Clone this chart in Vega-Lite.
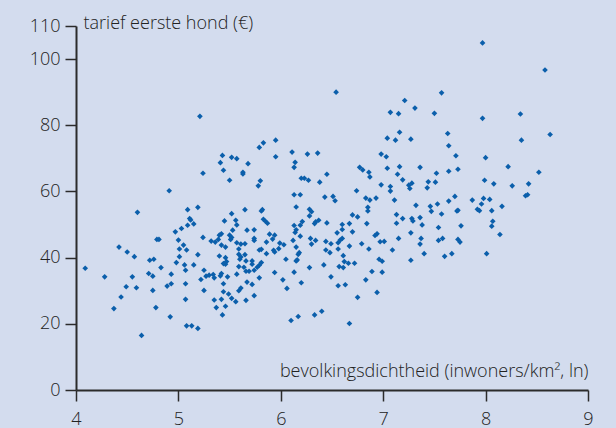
{
  "$schema": "https://vega.github.io/schema/vega-lite/v6.json",
  "autosize": {"type": "none"},
  "padding": {"left": 76, "top": 26, "right": 28, "bottom": 38},
  "width": 512,
  "height": 364,
  "background": "#d3dcee",
  "config": {
    "view": {"stroke": null},
    "font": "Open Sans",
    "axis": {
      "labelFont": "Open Sans",
      "titleFont": "Open Sans",
      "labelFontSize": 18,
      "titleFontSize": 18,
      "labelFontWeight": 300,
      "titleFontWeight": 300,
      "labelColor": "#222222",
      "titleColor": "#222222",
      "domainColor": "#2b2b2b",
      "domainWidth": 2,
      "tickColor": "#2b2b2b",
      "tickWidth": 1.5,
      "tickSize": 11,
      "grid": false
    }
  },
  "data": {
    "values": [
      {"dichtheid": 7.97, "tarief": 104.9}, {"dichtheid": 8.58, "tarief": 96.7}, {"dichtheid": 7.57, "tarief": 89.8},
      {"dichtheid": 7.50, "tarief": 83.6}, {"dichtheid": 7.97, "tarief": 82.1}, {"dichtheid": 8.34, "tarief": 83.4},
      {"dichtheid": 7.63, "tarief": 77.5}, {"dichtheid": 8.35, "tarief": 75.5}, {"dichtheid": 8.63, "tarief": 77.2},
      {"dichtheid": 7.64, "tarief": 73.8}, {"dichtheid": 7.71, "tarief": 70.8}, {"dichtheid": 8.00, "tarief": 70.2},
      {"dichtheid": 8.22, "tarief": 67.5}, {"dichtheid": 8.52, "tarief": 65.8}, {"dichtheid": 7.36, "tarief": 67.3},
      {"dichtheid": 7.52, "tarief": 65.5}, {"dichtheid": 7.64, "tarief": 66.1}, {"dichtheid": 7.73, "tarief": 66.7},
      {"dichtheid": 7.44, "tarief": 62.9}, {"dichtheid": 7.51, "tarief": 62.8}, {"dichtheid": 7.43, "tarief": 61.1},
      {"dichtheid": 7.99, "tarief": 63.4}, {"dichtheid": 8.08, "tarief": 62.3}, {"dichtheid": 8.26, "tarief": 61.7},
      {"dichtheid": 8.42, "tarief": 62.3}, {"dichtheid": 8.39, "tarief": 58.7}, {"dichtheid": 8.41, "tarief": 59.0},
      {"dichtheid": 7.70, "tarief": 58.5}, {"dichtheid": 7.64, "tarief": 57.1}, {"dichtheid": 7.53, "tarief": 56.2},
      {"dichtheid": 7.46, "tarief": 55.5}, {"dichtheid": 7.47, "tarief": 54.0}, {"dichtheid": 7.57, "tarief": 53.2},
      {"dichtheid": 7.36, "tarief": 52.1}, {"dichtheid": 7.87, "tarief": 57.4}, {"dichtheid": 7.98, "tarief": 57.9},
      {"dichtheid": 8.04, "tarief": 57.6}, {"dichtheid": 7.96, "tarief": 56.2}, {"dichtheid": 8.16, "tarief": 55.5},
      {"dichtheid": 7.92, "tarief": 54.6}, {"dichtheid": 7.94, "tarief": 54.2}, {"dichtheid": 7.72, "tarief": 54.1},
      {"dichtheid": 7.73, "tarief": 54.3}, {"dichtheid": 8.06, "tarief": 54.2}, {"dichtheid": 8.07, "tarief": 51.0},
      {"dichtheid": 8.06, "tarief": 49.5}, {"dichtheid": 7.76, "tarief": 49.6}, {"dichtheid": 7.54, "tarief": 49.1},
      {"dichtheid": 7.38, "tarief": 49.9}, {"dichtheid": 8.14, "tarief": 47.0}, {"dichtheid": 7.37, "tarief": 45.8},
      {"dichtheid": 7.36, "tarief": 44.1}, {"dichtheid": 7.54, "tarief": 45.2}, {"dichtheid": 7.58, "tarief": 45.8},
      {"dichtheid": 7.73, "tarief": 45.5}, {"dichtheid": 7.75, "tarief": 44.7}, {"dichtheid": 7.40, "tarief": 41.2},
      {"dichtheid": 7.60, "tarief": 40.4}, {"dichtheid": 7.67, "tarief": 41.2}, {"dichtheid": 8.01, "tarief": 41.2},
      {"dichtheid": 6.54, "tarief": 90.0}, {"dichtheid": 7.21, "tarief": 87.5}, {"dichtheid": 7.31, "tarief": 85.2},
      {"dichtheid": 7.07, "tarief": 83.9}, {"dichtheid": 7.15, "tarief": 83.5}, {"dichtheid": 7.16, "tarief": 77.9},
      {"dichtheid": 7.04, "tarief": 76.1}, {"dichtheid": 7.12, "tarief": 75.5}, {"dichtheid": 7.27, "tarief": 75.8},
      {"dichtheid": 5.79, "tarief": 73.3}, {"dichtheid": 5.83, "tarief": 74.7}, {"dichtheid": 5.95, "tarief": 75.5},
      {"dichtheid": 5.95, "tarief": 70.5}, {"dichtheid": 6.11, "tarief": 71.9}, {"dichtheid": 6.26, "tarief": 71.3},
      {"dichtheid": 6.36, "tarief": 71.6}, {"dichtheid": 6.14, "tarief": 68.8}, {"dichtheid": 6.13, "tarief": 67.3},
      {"dichtheid": 6.98, "tarief": 71.3}, {"dichtheid": 7.03, "tarief": 70.5}, {"dichtheid": 6.77, "tarief": 67.3},
      {"dichtheid": 6.80, "tarief": 66.5}, {"dichtheid": 6.86, "tarief": 65.8}, {"dichtheid": 6.87, "tarief": 64.4},
      {"dichtheid": 7.04, "tarief": 67.0}, {"dichtheid": 7.16, "tarief": 67.5}, {"dichtheid": 7.14, "tarief": 65.2},
      {"dichtheid": 7.19, "tarief": 63.5}, {"dichtheid": 7.28, "tarief": 62.5}, {"dichtheid": 7.25, "tarief": 61.9},
      {"dichtheid": 7.26, "tarief": 60.9}, {"dichtheid": 6.98, "tarief": 62.0}, {"dichtheid": 7.07, "tarief": 61.5},
      {"dichtheid": 7.07, "tarief": 60.1}, {"dichtheid": 6.74, "tarief": 60.2}, {"dichtheid": 5.80, "tarief": 63.2},
      {"dichtheid": 5.78, "tarief": 61.7}, {"dichtheid": 6.20, "tarief": 64.0}, {"dichtheid": 6.23, "tarief": 64.0},
      {"dichtheid": 6.27, "tarief": 63.4}, {"dichtheid": 6.38, "tarief": 62.8}, {"dichtheid": 6.45, "tarief": 65.2},
      {"dichtheid": 6.13, "tarief": 59.0}, {"dichtheid": 6.19, "tarief": 59.0}, {"dichtheid": 6.43, "tarief": 58.3},
      {"dichtheid": 6.51, "tarief": 58.5}, {"dichtheid": 6.53, "tarief": 57.2}, {"dichtheid": 6.83, "tarief": 58.0},
      {"dichtheid": 6.93, "tarief": 58.0}, {"dichtheid": 6.87, "tarief": 57.4}, {"dichtheid": 7.11, "tarief": 57.4},
      {"dichtheid": 6.85, "tarief": 55.2}, {"dichtheid": 6.85, "tarief": 54.1}, {"dichtheid": 7.32, "tarief": 55.8},
      {"dichtheid": 5.82, "tarief": 54.5}, {"dichtheid": 5.81, "tarief": 54.1}, {"dichtheid": 6.15, "tarief": 55.3},
      {"dichtheid": 6.28, "tarief": 54.6}, {"dichtheid": 6.30, "tarief": 53.9}, {"dichtheid": 6.28, "tarief": 52.6},
      {"dichtheid": 6.70, "tarief": 52.9}, {"dichtheid": 6.75, "tarief": 52.3}, {"dichtheid": 7.13, "tarief": 53.0},
      {"dichtheid": 7.19, "tarief": 51.8}, {"dichtheid": 7.28, "tarief": 51.8}, {"dichtheid": 7.29, "tarief": 51.1},
      {"dichtheid": 5.83, "tarief": 51.6}, {"dichtheid": 5.85, "tarief": 51.0}, {"dichtheid": 5.87, "tarief": 50.4},
      {"dichtheid": 6.21, "tarief": 50.9}, {"dichtheid": 6.19, "tarief": 49.8}, {"dichtheid": 6.13, "tarief": 49.7},
      {"dichtheid": 6.34, "tarief": 50.8}, {"dichtheid": 6.37, "tarief": 51.3}, {"dichtheid": 6.33, "tarief": 50.3},
      {"dichtheid": 6.45, "tarief": 50.5}, {"dichtheid": 6.60, "tarief": 50.0}, {"dichtheid": 6.60, "tarief": 48.5},
      {"dichtheid": 6.67, "tarief": 50.3}, {"dichtheid": 6.84, "tarief": 50.3}, {"dichtheid": 7.13, "tarief": 50.4},
      {"dichtheid": 5.74, "tarief": 48.4}, {"dichtheid": 6.14, "tarief": 47.6}, {"dichtheid": 6.15, "tarief": 48.4},
      {"dichtheid": 6.55, "tarief": 47.5}, {"dichtheid": 6.70, "tarief": 47.8}, {"dichtheid": 6.94, "tarief": 47.2},
      {"dichtheid": 6.92, "tarief": 46.7}, {"dichtheid": 7.27, "tarief": 47.5}, {"dichtheid": 5.89, "tarief": 47.1},
      {"dichtheid": 5.94, "tarief": 46.8}, {"dichtheid": 5.92, "tarief": 45.6}, {"dichtheid": 5.74, "tarief": 45.8},
      {"dichtheid": 5.74, "tarief": 45.2}, {"dichtheid": 6.19, "tarief": 46.5}, {"dichtheid": 6.29, "tarief": 45.8},
      {"dichtheid": 6.34, "tarief": 45.2}, {"dichtheid": 6.12, "tarief": 45.2}, {"dichtheid": 5.86, "tarief": 44.7},
      {"dichtheid": 5.99, "tarief": 44.4}, {"dichtheid": 6.03, "tarief": 43.9}, {"dichtheid": 6.30, "tarief": 44.1},
      {"dichtheid": 6.44, "tarief": 44.9}, {"dichtheid": 6.49, "tarief": 44.2}, {"dichtheid": 6.56, "tarief": 44.5},
      {"dichtheid": 6.58, "tarief": 45.3}, {"dichtheid": 6.60, "tarief": 45.8}, {"dichtheid": 7.15, "tarief": 45.8},
      {"dichtheid": 6.97, "tarief": 44.8}, {"dichtheid": 7.01, "tarief": 44.9}, {"dichtheid": 6.15, "tarief": 43.2},
      {"dichtheid": 6.67, "tarief": 43.5}, {"dichtheid": 6.79, "tarief": 44.2}, {"dichtheid": 5.79, "tarief": 42.3},
      {"dichtheid": 5.81, "tarief": 42.5}, {"dichtheid": 5.93, "tarief": 42.2}, {"dichtheid": 5.94, "tarief": 41.7},
      {"dichtheid": 5.98, "tarief": 42.7}, {"dichtheid": 6.44, "tarief": 42.3}, {"dichtheid": 6.48, "tarief": 41.5},
      {"dichtheid": 6.56, "tarief": 42.6}, {"dichtheid": 6.86, "tarief": 42.6}, {"dichtheid": 7.09, "tarief": 42.3},
      {"dichtheid": 5.86, "tarief": 41.2}, {"dichtheid": 6.17, "tarief": 41.0}, {"dichtheid": 6.18, "tarief": 41.5},
      {"dichtheid": 6.61, "tarief": 40.6}, {"dichtheid": 6.05, "tarief": 39.5}, {"dichtheid": 6.16, "tarief": 39.3},
      {"dichtheid": 6.15, "tarief": 39.0}, {"dichtheid": 6.42, "tarief": 37.8}, {"dichtheid": 6.28, "tarief": 37.0},
      {"dichtheid": 6.57, "tarief": 37.3}, {"dichtheid": 6.61, "tarief": 37.0}, {"dichtheid": 6.62, "tarief": 38.8},
      {"dichtheid": 6.66, "tarief": 38.3}, {"dichtheid": 6.72, "tarief": 38.3}, {"dichtheid": 6.96, "tarief": 39.5},
      {"dichtheid": 6.99, "tarief": 38.9}, {"dichtheid": 7.27, "tarief": 39.2}, {"dichtheid": 5.72, "tarief": 39.0},
      {"dichtheid": 5.72, "tarief": 38.0}, {"dichtheid": 5.81, "tarief": 38.5}, {"dichtheid": 5.79, "tarief": 37.7},
      {"dichtheid": 5.77, "tarief": 37.1}, {"dichtheid": 5.74, "tarief": 36.2}, {"dichtheid": 5.69, "tarief": 35.9},
      {"dichtheid": 5.94, "tarief": 35.5}, {"dichtheid": 6.13, "tarief": 35.6}, {"dichtheid": 6.89, "tarief": 35.8},
      {"dichtheid": 6.99, "tarief": 35.6}, {"dichtheid": 6.49, "tarief": 34.2}, {"dichtheid": 5.79, "tarief": 33.9},
      {"dichtheid": 6.02, "tarief": 33.3}, {"dichtheid": 6.83, "tarief": 33.3}, {"dichtheid": 5.72, "tarief": 31.9},
      {"dichtheid": 6.20, "tarief": 32.4}, {"dichtheid": 6.56, "tarief": 31.5}, {"dichtheid": 6.63, "tarief": 31.8},
      {"dichtheid": 6.06, "tarief": 30.7}, {"dichtheid": 6.94, "tarief": 29.5}, {"dichtheid": 5.74, "tarief": 28.5},
      {"dichtheid": 6.75, "tarief": 28.0}, {"dichtheid": 6.10, "tarief": 21.0}, {"dichtheid": 6.17, "tarief": 22.2},
      {"dichtheid": 6.33, "tarief": 22.7}, {"dichtheid": 6.40, "tarief": 23.8}, {"dichtheid": 6.67, "tarief": 20.1},
      {"dichtheid": 5.43, "tarief": 70.9}, {"dichtheid": 5.52, "tarief": 70.3}, {"dichtheid": 5.57, "tarief": 69.9},
      {"dichtheid": 5.41, "tarief": 68.7}, {"dichtheid": 5.68, "tarief": 68.4}, {"dichtheid": 5.44, "tarief": 66.4},
      {"dichtheid": 5.63, "tarief": 65.8}, {"dichtheid": 5.63, "tarief": 65.3}, {"dichtheid": 5.24, "tarief": 65.5},
      {"dichtheid": 5.50, "tarief": 63.4}, {"dichtheid": 4.91, "tarief": 60.2}, {"dichtheid": 4.60, "tarief": 53.7},
      {"dichtheid": 5.09, "tarief": 54.5}, {"dichtheid": 5.19, "tarief": 55.2}, {"dichtheid": 5.65, "tarief": 54.5},
      {"dichtheid": 5.52, "tarief": 53.3}, {"dichtheid": 5.11, "tarief": 51.8}, {"dichtheid": 5.12, "tarief": 51.4},
      {"dichtheid": 5.09, "tarief": 49.8}, {"dichtheid": 5.15, "tarief": 50.2}, {"dichtheid": 5.45, "tarief": 51.1},
      {"dichtheid": 5.56, "tarief": 51.3}, {"dichtheid": 5.57, "tarief": 49.9}, {"dichtheid": 5.03, "tarief": 48.8},
      {"dichtheid": 4.97, "tarief": 47.8}, {"dichtheid": 5.53, "tarief": 48.3}, {"dichtheid": 5.67, "tarief": 48.3},
      {"dichtheid": 4.79, "tarief": 45.5}, {"dichtheid": 4.81, "tarief": 45.5}, {"dichtheid": 5.00, "tarief": 45.3},
      {"dichtheid": 5.24, "tarief": 46.1}, {"dichtheid": 5.32, "tarief": 45.0}, {"dichtheid": 5.36, "tarief": 44.7},
      {"dichtheid": 5.39, "tarief": 45.5}, {"dichtheid": 5.42, "tarief": 47.2}, {"dichtheid": 5.40, "tarief": 46.8},
      {"dichtheid": 5.50, "tarief": 46.8}, {"dichtheid": 5.52, "tarief": 46.1}, {"dichtheid": 5.51, "tarief": 45.5},
      {"dichtheid": 5.57, "tarief": 44.5}, {"dichtheid": 5.61, "tarief": 44.1}, {"dichtheid": 5.65, "tarief": 44.2},
      {"dichtheid": 5.05, "tarief": 43.8}, {"dichtheid": 5.42, "tarief": 43.8}, {"dichtheid": 5.46, "tarief": 43.2},
      {"dichtheid": 4.42, "tarief": 43.2}, {"dichtheid": 4.50, "tarief": 41.7}, {"dichtheid": 4.57, "tarief": 40.3},
      {"dichtheid": 5.01, "tarief": 42.6}, {"dichtheid": 5.08, "tarief": 42.3}, {"dichtheid": 5.59, "tarief": 42.6},
      {"dichtheid": 5.65, "tarief": 40.9}, {"dichtheid": 5.19, "tarief": 40.9}, {"dichtheid": 5.01, "tarief": 40.3},
      {"dichtheid": 5.40, "tarief": 40.5}, {"dichtheid": 5.46, "tarief": 40.0}, {"dichtheid": 5.47, "tarief": 38.8},
      {"dichtheid": 5.46, "tarief": 38.0}, {"dichtheid": 5.44, "tarief": 38.2}, {"dichtheid": 5.59, "tarief": 41.0},
      {"dichtheid": 5.61, "tarief": 40.2}, {"dichtheid": 5.60, "tarief": 39.5}, {"dichtheid": 4.72, "tarief": 39.2},
      {"dichtheid": 4.76, "tarief": 39.5}, {"dichtheid": 4.98, "tarief": 38.5}, {"dichtheid": 5.06, "tarief": 37.8},
      {"dichtheid": 5.15, "tarief": 37.8}, {"dichtheid": 4.09, "tarief": 36.8}, {"dichtheid": 4.83, "tarief": 37.0},
      {"dichtheid": 5.59, "tarief": 37.3}, {"dichtheid": 5.64, "tarief": 37.1}, {"dichtheid": 5.66, "tarief": 39.0},
      {"dichtheid": 5.07, "tarief": 36.2}, {"dichtheid": 4.28, "tarief": 34.2}, {"dichtheid": 4.55, "tarief": 34.2},
      {"dichtheid": 4.71, "tarief": 35.2}, {"dichtheid": 4.75, "tarief": 34.4}, {"dichtheid": 4.93, "tarief": 35.0},
      {"dichtheid": 4.49, "tarief": 31.2}, {"dichtheid": 4.59, "tarief": 30.9}, {"dichtheid": 4.75, "tarief": 30.1},
      {"dichtheid": 4.89, "tarief": 31.4}, {"dichtheid": 4.93, "tarief": 32.1}, {"dichtheid": 5.07, "tarief": 32.1},
      {"dichtheid": 4.44, "tarief": 28.1}, {"dichtheid": 4.37, "tarief": 24.6}, {"dichtheid": 4.78, "tarief": 24.9},
      {"dichtheid": 5.07, "tarief": 27.4}, {"dichtheid": 4.92, "tarief": 22.1}, {"dichtheid": 4.64, "tarief": 16.5},
      {"dichtheid": 5.08, "tarief": 19.4}, {"dichtheid": 5.13, "tarief": 19.4}, {"dichtheid": 5.19, "tarief": 18.6},
      {"dichtheid": 5.25, "tarief": 36.2}, {"dichtheid": 5.22, "tarief": 33.4}, {"dichtheid": 5.27, "tarief": 34.4},
      {"dichtheid": 5.30, "tarief": 34.7}, {"dichtheid": 5.34, "tarief": 34.9}, {"dichtheid": 5.35, "tarief": 33.9},
      {"dichtheid": 5.41, "tarief": 34.5}, {"dichtheid": 5.42, "tarief": 35.2}, {"dichtheid": 5.48, "tarief": 34.2},
      {"dichtheid": 5.44, "tarief": 32.1}, {"dichtheid": 5.25, "tarief": 30.1}, {"dichtheid": 5.44, "tarief": 29.7},
      {"dichtheid": 5.49, "tarief": 29.0}, {"dichtheid": 5.52, "tarief": 27.7}, {"dichtheid": 5.35, "tarief": 27.2},
      {"dichtheid": 5.42, "tarief": 27.4}, {"dichtheid": 5.56, "tarief": 26.7}, {"dichtheid": 5.37, "tarief": 24.9},
      {"dichtheid": 5.46, "tarief": 25.3}, {"dichtheid": 5.43, "tarief": 22.7}, {"dichtheid": 5.66, "tarief": 27.1},
      {"dichtheid": 5.57, "tarief": 35.0}, {"dichtheid": 5.59, "tarief": 30.0}, {"dichtheid": 5.61, "tarief": 30.8},
      {"dichtheid": 5.67, "tarief": 32.6}, {"dichtheid": 5.66, "tarief": 35.9}, {"dichtheid": 5.21, "tarief": 82.7}
    ]
  },
  "mark": {"type": "point", "shape": "diamond", "filled": true, "size": 32, "color": "#0b5fab", "opacity": 1},
  "encoding": {
    "x": {
      "field": "dichtheid",
      "type": "quantitative",
      "scale": {"domain": [4, 9], "nice": false, "zero": false},
      "axis": {
        "values": [4, 5, 6, 7, 8, 9],
        "title": "bevolkingsdichtheid (inwoners/km², ln)",
        "titleAnchor": "end",
        "titleAlign": "right",
        "titleBaseline": "middle",
        "titleX": 512,
        "titleY": -19,
        "labelPadding": 9,
        "labelFlush": false
      }
    },
    "y": {
      "field": "tarief",
      "type": "quantitative",
      "scale": {"domain": [0, 110], "nice": false},
      "axis": {
        "values": [0, 20, 40, 60, 80, 100, 110],
        "title": "tarief eerste hond (€)",
        "titleAngle": 0,
        "titleAlign": "left",
        "titleBaseline": "middle",
        "titleX": 7,
        "titleY": -3,
        "labelPadding": 5,
        "labelFlush": false
      }
    }
  }
}
